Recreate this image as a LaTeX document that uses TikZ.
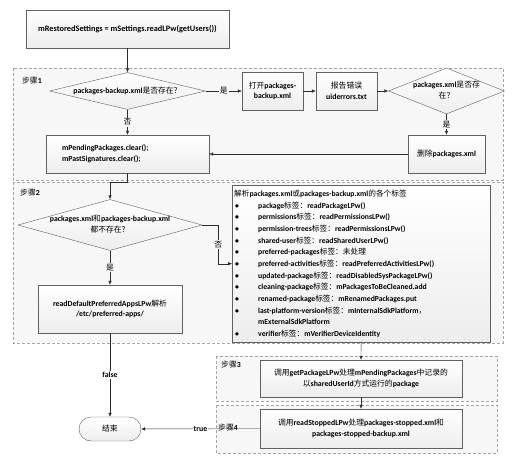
\documentclass[tikz,border=0pt]{standalone}
\usepackage{fontspec}
\setmainfont{Carlito}
\newfontfamily\cjk{Noto Sans CJK SC}
\usepackage{tikz}
\usetikzlibrary{arrows.meta,positioning,shapes.geometric,calc}
\newcommand{\zh}[1]{{\cjk\mdseries #1}}
\newcommand{\dtext}[1]{\makebox[0pt]{\begin{tabular}{@{}c@{}}#1\end{tabular}}}
\newcommand{\itm}[1]{\hspace*{1pt}\makebox[23pt][l]{\textbullet}#1}

\tikzset{
  region/.style={draw=gray!70, dash pattern=on 3pt off 2pt, fill=gray!6},
  box/.style={draw=gray!75!black, top color=white, bottom color=gray!14, inner sep=2pt,
    align=center, font=\bfseries\fontsize{7.8}{10.5}\selectfont},
  decision/.style={diamond, draw=gray!75!black, top color=white, bottom color=gray!14,
    inner sep=0pt, font=\bfseries\fontsize{7.8}{10.5}\selectfont},
  lbl/.style={font=\bfseries\fontsize{7.8}{9}\selectfont, fill=gray!6, inner sep=1pt},
  steplbl/.style={anchor=west, font=\bfseries\fontsize{7.8}{9}\selectfont, inner sep=0pt},
  arr/.style={-{Latex[length=4pt,width=3.5pt]}, draw=gray!35!black, thin}
}

\begin{document}
\begin{tikzpicture}[x=1pt,y=-1pt]
    \useasboundingbox (0,0) rectangle (515,461);

    % Step regions
    \draw[region] (13,68) rectangle (503,180);
    \draw[region] (13,182) rectangle (503,343);
    \draw[region] (216,356) rectangle (497,401);
    \draw[region] (216,405) rectangle (497,453);
    \node[steplbl] at (22,81) {\zh{步骤}1};
    \node[steplbl] at (20,193) {\zh{步骤}2};
    \node[steplbl] at (221,365) {\zh{步骤}3};
    \node[steplbl] at (218,428) {\zh{步骤}4};

    % Start
    \node[box, minimum width=203, minimum height=38, font=\bfseries\fontsize{8.3}{10}\selectfont]
        (start) at (127.5,29) {mRestoredSettings = mSettings.readLPw(getUsers())};

    % Step 1
    \node[decision, minimum width=156, minimum height=37] (d1) at (127.5,91)
        {\dtext{packages-backup.xml\zh{是否存在？}}};
    \node[box, minimum width=61, minimum height=38] (openbak) at (272.5,91)
        {\zh{打开}packages-\\backup.xml};
    \node[box, minimum width=61, minimum height=38] (report) at (346.5,91)
        {\zh{报告错误}\\uiderrors.txt};
    \node[decision, minimum width=116, minimum height=46] (d2) at (446.5,91)
        {\dtext{packages.xml\zh{是否存}\\\zh{在？}}};
    \node[box, minimum width=77, minimum height=38] (delxml) at (446.5,154)
        {\zh{删除}packages.xml};
    \node[box, minimum width=163, minimum height=38, text width=131, align=left,
        inner xsep=16pt] (clear) at (127.5,154)
        {mPendingPackages.clear();\\mPastSignatures.clear();};

    % Step 2
    \node[decision, minimum width=184, minimum height=51] (d3) at (110,225)
        {\dtext{packages.xml\zh{和}packages-backup.xml\\\zh{都不存在？}}};
    \node[box, minimum width=144, minimum height=48] (readdef) at (110,309)
        {readDefaultPreferredAppsLPw\zh{解析}\\/etc/preferred-apps/};
    \node[box, anchor=north west, minimum width=258, minimum height=157, text width=254,
        align=left, font=\bfseries\fontsize{7.7}{11.67}\selectfont] (parse) at (232,185)
        {\zh{解析}packages.xml\zh{或}packages-backup.xml\zh{的各个标签}\\
         \itm{package\zh{标签：}readPackageLPw()}\\
         \itm{permissions\zh{标签：}readPermissionsLPw()}\\
         \itm{permission-trees\zh{标签：}readPermissionsLPw()}\\
         \itm{shared-user\zh{标签：}readSharedUserLPw()}\\
         \itm{preferred-packages\zh{标签：未处理}}\\
         \itm{preferred-activities\zh{标签：}readPreferredActivitiesLPw()}\\
         \itm{updated-package\zh{标签：}readDisabledSysPackageLPw()}\\
         \itm{cleaning-package\zh{标签：}mPackagesToBeCleaned.add}\\
         \itm{renamed-package\zh{标签：}mRenamedPackages.put}\\
         \itm{last-platform-version\zh{标签：}mInternalSdkPlatform\zh{，}}\\
         \hspace*{24pt}mExternalSdkPlatform\\
         \itm{verifier\zh{标签：}mVerifierDeviceIdentity}};

    % Step 3 and 4
    \node[box, minimum width=202, minimum height=37] (s3box) at (361,378.5)
        {\zh{调用}getPackageLPw\zh{处理}mPendingPackages\zh{中记录的}\\
         \zh{以}sharedUserId\zh{方式运行的}package};
    \node[box, minimum width=202, minimum height=39] (s4box) at (361,428.5)
        {\zh{调用}readStoppedLPw\zh{处理}packages-stopped.xml\zh{和}\\
         packages-stopped-backup.xml};

    % End
    \node[box, rounded corners=12pt, minimum width=62, minimum height=24] (endnode) at (110,429)
        {\zh{结束}};

    % Connectors
    \draw[arr] (start) -- (d1);
    \draw[arr] (d1) -- node[lbl] {\zh{是}} (openbak);
    \draw[arr] (openbak) -- (report);
    \draw[arr] (report) -- (d2);
    \draw[arr] (d2) -- node[lbl] {\zh{是}} (delxml);
    \draw[arr] (delxml) -- (clear);
    \draw[arr] (d1) -- node[lbl] {\zh{否}} (clear);
    \draw[arr] (clear.south) -- ++(0,9) -| (d3.north);
    \draw[arr] (d3.east) -- ++(16,0) |- node[lbl, pos=0.25] {\zh{否}} (parse.west);
    \draw[arr] (d3) -- node[lbl] {\zh{是}} (readdef);
    \draw[arr] (parse) -- (s3box);
    \draw[arr] (s3box) -- (s4box);
    \draw[arr] (readdef) -- node[lbl, fill=white] {false} (endnode);
    \draw[arr] (s4box) -- node[lbl, fill=white] {true} (endnode);

\end{tikzpicture}
\end{document}
